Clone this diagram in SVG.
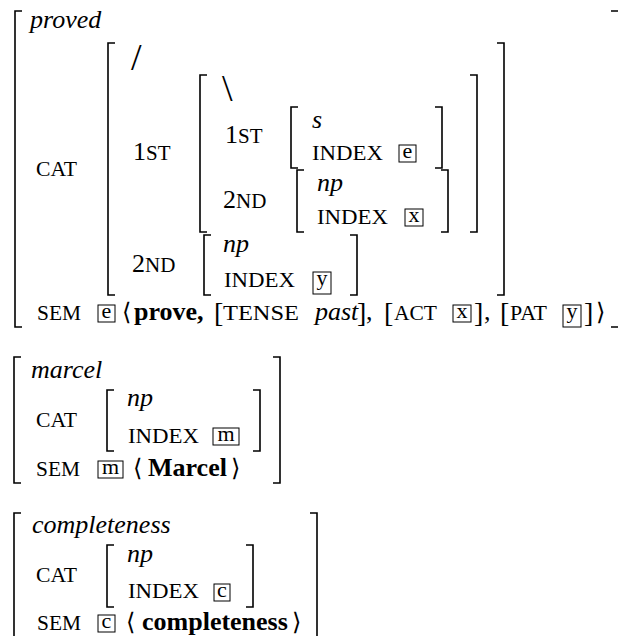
<svg xmlns="http://www.w3.org/2000/svg" width="618" height="636" viewBox="0 0 618 636" font-family="'Liberation Serif', 'DejaVu Serif', serif">
<style>
text{font-family:'Liberation Serif','DejaVu Serif',serif;fill:#000}
.rm{font-size:26px}
.it{font-size:26px;font-style:italic}
.bf{font-size:26px;font-weight:bold}
.sc{font-size:21px}
.bk{font-size:28px}
.sl{font-size:38px}
.ang{font-family:'DejaVu Serif','DejaVu Sans',serif;font-size:24px}
.tg{font-size:22px;text-anchor:middle}
.br{fill:none;stroke:#000;stroke-width:1.6}
.bx{fill:none;stroke:#000;stroke-width:1}
</style>
<rect width="618" height="636" fill="#fff"/>

<g id="avm-proved">
  <path class="br" d="M22,11H15V327H22"/>
  <path class="br" d="M611,11H618M611,327H618"/>
  <text class="it" x="30" y="28">proved</text>
  <text class="sc" x="36" y="176" textLength="41" lengthAdjust="spacingAndGlyphs">CAT</text>
  <g id="proved-cat">
    <path class="br" d="M115,43H108V295H115M497,43H504V295H497"/>
    <text class="sl" x="131" y="70">/</text>
    <text x="133" y="160"><tspan class="rm">1</tspan><tspan class="sc">ST</tspan></text>
    <text x="132" y="272"><tspan class="rm">2</tspan><tspan class="sc">ND</tspan></text>
    <g id="proved-cat-1st">
      <path class="br" d="M207,75H200V232H207M470,75H477V232H470"/>
      <text class="sl" x="222" y="101">\</text>
      <text x="225" y="143"><tspan class="rm">1</tspan><tspan class="sc">ST</tspan></text>
      <text x="223" y="208"><tspan class="rm">2</tspan><tspan class="sc">ND</tspan></text>
      <g id="proved-s">
        <path class="br" d="M298,107H291V168H298M435,107H442V168H435"/>
        <text class="it" x="312" y="128">s</text>
        <text class="sc" x="312" y="160" textLength="71" lengthAdjust="spacingAndGlyphs">INDEX</text>
        <rect class="bx" x="399" y="145" width="17" height="17"/>
        <text class="tg" x="407.5" y="158">e</text>
      </g>
      <g id="proved-np-x">
        <path class="br" d="M304,170H297V232H304M441,170H448V232H441"/>
        <text class="it" x="317" y="191">np</text>
        <text class="sc" x="317" y="224" textLength="71" lengthAdjust="spacingAndGlyphs">INDEX</text>
        <rect class="bx" x="405" y="209" width="18" height="17"/>
        <text class="tg" x="414" y="222">x</text>
      </g>
    </g>
    <g id="proved-np-y">
      <path class="br" d="M211,235H204V295H211M350,235H357V295H350"/>
      <text class="it" x="223" y="252">np</text>
      <text class="sc" x="224" y="287" textLength="71" lengthAdjust="spacingAndGlyphs">INDEX</text>
      <rect class="bx" x="313" y="272" width="18" height="22"/>
      <text class="tg" x="322" y="285">y</text>
    </g>
  </g>
  <g id="proved-sem">
    <text class="sc" x="37" y="320" textLength="44" lengthAdjust="spacingAndGlyphs">SEM</text>
    <rect class="bx" x="98" y="305" width="17" height="17"/>
    <text class="tg" x="106.5" y="318">e</text>
    <text class="ang" x="122" y="320">⟨</text>
    <text class="bf" x="134" y="320">prove,</text>
    <text class="bk" x="214" y="322">[</text>
    <text class="sc" x="223" y="320" textLength="76" lengthAdjust="spacingAndGlyphs">TENSE</text>
    <text class="it" x="315" y="320">past</text>
    <text class="bk" x="357" y="322">]</text>
    <text class="rm" x="366" y="320">,</text>
    <text class="bk" x="384" y="322">[</text>
    <text class="sc" x="394" y="320" textLength="43" lengthAdjust="spacingAndGlyphs">ACT</text>
    <rect class="bx" x="453" y="305" width="18" height="17"/>
    <text class="tg" x="462" y="318">x</text>
    <text class="bk" x="474" y="322">]</text>
    <text class="rm" x="484" y="320">,</text>
    <text class="bk" x="500" y="322">[</text>
    <text class="sc" x="510" y="320" textLength="37" lengthAdjust="spacingAndGlyphs">PAT</text>
    <rect class="bx" x="563" y="305" width="18" height="22"/>
    <text class="tg" x="572" y="318">y</text>
    <text class="bk" x="584" y="322">]</text>
    <text class="ang" x="596" y="320">⟩</text>
  </g>
</g>

<g id="avm-marcel">
  <path class="br" d="M21,357H14V483H21M273,357H280V483H273"/>
  <text class="it" x="31" y="378">marcel</text>
  <text class="sc" x="36" y="427" textLength="41" lengthAdjust="spacingAndGlyphs">CAT</text>
  <g id="marcel-cat">
    <path class="br" d="M114,390H107V451H114M253,390H260V451H253"/>
    <text class="it" x="127" y="406">np</text>
    <text class="sc" x="128" y="443" textLength="71" lengthAdjust="spacingAndGlyphs">INDEX</text>
    <rect class="bx" x="213" y="428" width="26" height="17"/>
    <text class="tg" x="226" y="441">m</text>
  </g>
  <g id="marcel-sem">
    <text class="sc" x="36" y="476" textLength="44" lengthAdjust="spacingAndGlyphs">SEM</text>
    <rect class="bx" x="98" y="461" width="25" height="17"/>
    <text class="tg" x="110.5" y="474">m</text>
    <text class="ang" x="133" y="476">⟨</text>
    <text class="bf" x="148" y="476">Marcel</text>
    <text class="ang" x="231" y="476">⟩</text>
  </g>
</g>

<g id="avm-completeness">
  <path class="br" d="M21,513H14V640M310,513H317V640"/>
  <text class="it" x="32" y="533">completeness</text>
  <text class="sc" x="36" y="582" textLength="41" lengthAdjust="spacingAndGlyphs">CAT</text>
  <g id="completeness-cat">
    <path class="br" d="M114,545H107V607H114M246,545H253V607H246"/>
    <text class="it" x="127" y="562">np</text>
    <text class="sc" x="128" y="598" textLength="71" lengthAdjust="spacingAndGlyphs">INDEX</text>
    <rect class="bx" x="214" y="584" width="16" height="17"/>
    <text class="tg" x="222" y="597">c</text>
  </g>
  <g id="completeness-sem">
    <text class="sc" x="37" y="630" textLength="44" lengthAdjust="spacingAndGlyphs">SEM</text>
    <rect class="bx" x="98" y="615" width="17" height="17"/>
    <text class="tg" x="106.5" y="628">c</text>
    <text class="ang" x="126" y="630">⟨</text>
    <text class="bf" x="142" y="630">completeness</text>
    <text class="ang" x="292" y="630">⟩</text>
  </g>
</g>
</svg>
